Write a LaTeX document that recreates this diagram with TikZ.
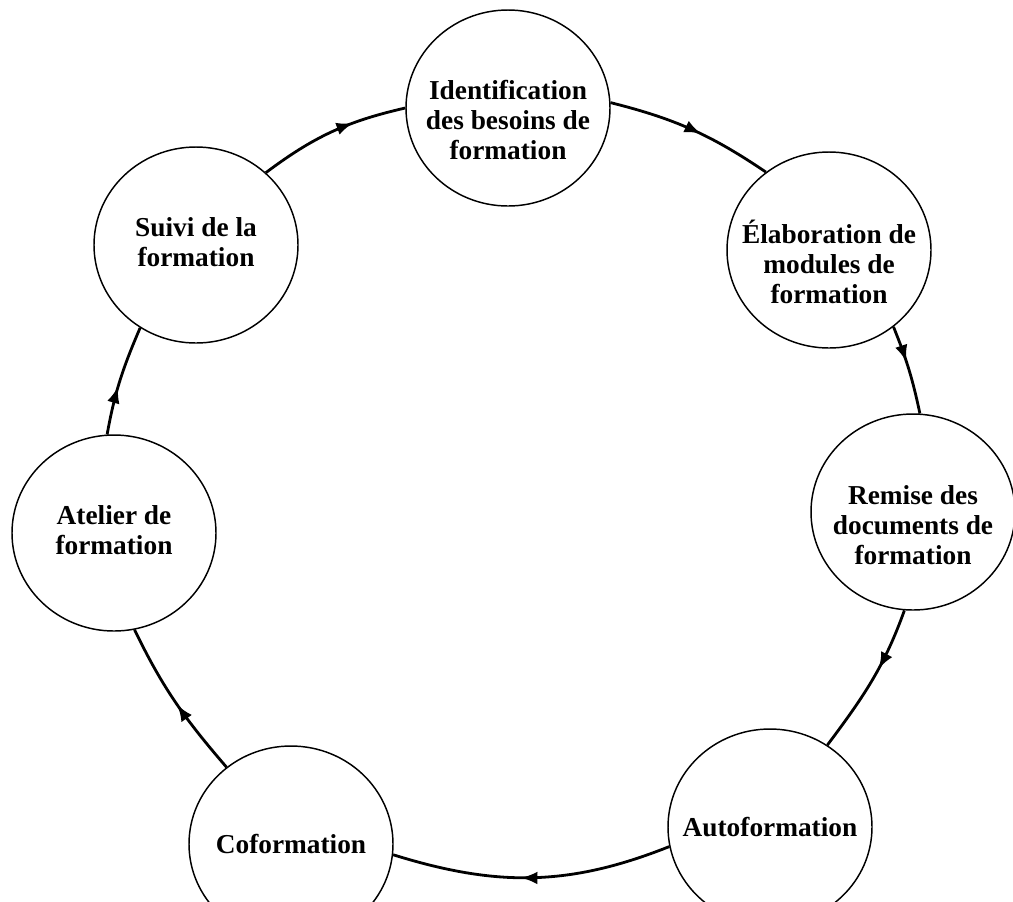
\documentclass[tikz,border=0pt]{standalone}
\usepackage{fontspec}
\setmainfont{Liberation Serif}
\usetikzlibrary{arrows.meta,decorations.markings,shapes.geometric}

\tikzset{
  phase/.style={ellipse, draw, line width=1.1pt, minimum width=153pt, minimum height=147pt, inner sep=0pt},
  phasetext/.style={align=center, inner sep=0pt, font=\fontsize{20.5}{22.5}\selectfont\bfseries},
  flow/.style={line width=2.1pt, postaction={decorate},
    decoration={markings, mark=at position #1 with {\arrow{Latex[length=12.5pt,width=9.5pt]}}}},
  flow/.default=0.5
}

\begin{document}
\begin{tikzpicture}[x=0.75pt, y=-0.75pt]
    \useasboundingbox (0,0) rectangle (1013,901);

    % Phases of the training cycle
    \node[phase, label={[phasetext, name=ident-t, yshift=-9pt]center:{Identification\\des besoins de\\formation}}] (ident) at (508,108) {};
    \node[phase, label={[phasetext, name=elab-t, yshift=-9pt]center:{Élaboration de\\modules de\\formation}}] (elab) at (829,250) {};
    \node[phase, label={[phasetext, name=remise-t, yshift=-10pt]center:{Remise des\\documents de\\formation}}] (remise) at (913,512) {};
    \node[phase, label={[phasetext, name=auto-t]center:{Autoformation}}] (auto) at (770,827) {};
    \node[phase, label={[phasetext, name=cof-t]center:{Coformation}}] (cof) at (291,844) {};
    \node[phase, label={[phasetext, name=atelier-t, yshift=2pt]center:{Atelier de\\formation}}] (atelier) at (114,533) {};
    \node[phase, label={[phasetext, name=suivi-t, yshift=2pt]center:{Suivi de la\\formation}}] (suivi) at (196,245) {};

    % Arcs between phases (out / in angles relative to the chord)
    \draw[flow=0.65] (suivi.46) to[out=12, in=168, relative] (ident.180);
    \draw[flow=0.56] (ident.3) to[out=10, in=170, relative] (elab.129);
    \draw[flow=0.41] (elab.-50) to[out=5, in=175, relative] (remise.86);
    \draw[flow=0.41] (remise.265) to[out=10, in=173, relative] (auto.55);
    \draw[flow=0.54] (auto.191) to[out=20, in=161, relative] (cof.354);
    \draw[flow=0.48] (cof.130) to[out=7, in=172, relative] (atelier.282);
    \draw[flow=0.44] (atelier.94) to[out=7, in=174, relative] (suivi.236);
\end{tikzpicture}
\end{document}
